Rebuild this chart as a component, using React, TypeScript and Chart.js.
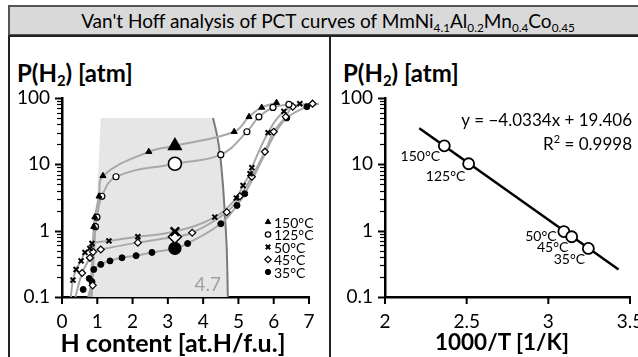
import React, { useEffect, useRef } from 'react';
import { Chart, registerables } from 'chart.js';
import { drawPoint } from 'chart.js/helpers';

Chart.register(...registerables);

const FONT = 'Lato, "Open Sans", sans-serif';

// ---------- data ----------
const seriesLabels = ['150°C', '125°C', '50°C', '45°C', '35°C'];

// PCT markers (H content, pressure atm)
const h150 = [0.9, 0.93, 1.05, 1.16, 2.46, 4.88, 5.3, 5.66, 6.08];
const p150 = [1.15, 1.6, 3.3, 6.7, 15.5, 31, 52, 72, 85];
const h125 = [0.95, 0.99, 1.13, 1.53, 4.5, 5.24, 5.58, 5.98, 6.43];
const p125 = [1.15, 1.6, 3.3, 6.5, 14, 31, 52, 72, 80];
const h50 = [0.31, 0.4, 0.54, 0.65, 0.79, 0.85, 1.33, 2.15, 4.33, 4.94, 5.13, 5.33, 5.38, 5.84, 6.29, 6.74];
const p50 = [0.18, 0.26, 0.35, 0.47, 0.54, 0.64, 0.7, 0.81, 1.6, 3.1, 4.8, 7.2, 8.9, 30, 63, 82];
const h45 = [0.57, 0.79, 0.87, 0.88, 1.1, 2.15, 3.69, 4.67, 5.04, 5.38, 5.75, 6.0, 6.34, 6.54, 7.1];
const p45 = [0.23, 0.39, 0.15, 0.48, 0.52, 0.66, 0.93, 1.9, 3.3, 6.5, 15.5, 31, 52, 74, 82];
const h35 = [0.6, 0.77, 0.85, 0.9, 1.1, 1.36, 1.7, 2.1, 2.55, 3.56, 4.5, 4.96, 5.18, 6.37, 6.94, 7.28];
const p35 = [0.13, 0.19, 0.17, 0.26, 0.31, 0.35, 0.39, 0.42, 0.47, 0.64, 1.27, 2.4, 3.6, 50, 74, 82];

// plateau pressures (large markers)
const plateauH = 3.2;
const plateauP = [19, 10.2, 0.97, 0.81, 0.54];

// grey curve traces
const c150H = [0.8, 0.9, 0.93, 1.05, 1.16, 2.46, 3.2, 4.88, 5.3, 5.66, 6.08];
const c150P = [0.1, 1.15, 1.6, 3.3, 6.7, 15.5, 19, 31, 52, 72, 85];
const c125H = [0.84, 0.95, 0.99, 1.13, 1.53, 3.2, 4.5, 5.24, 5.58, 5.98, 6.43];
const c125P = [0.1, 1.15, 1.6, 3.3, 6.5, 10.2, 14, 31, 52, 72, 80];
const c50H = [0.25, 0.31, 0.4, 0.54, 0.65, 0.79, 0.85, 1.33, 2.15, 3.2, 4.33, 4.94, 5.13, 5.33, 5.38, 5.84, 6.29, 6.74];
const c50P = [0.1, 0.18, 0.26, 0.35, 0.47, 0.54, 0.64, 0.7, 0.81, 0.97, 1.6, 3.1, 4.8, 7.2, 8.9, 30, 63, 82];
const c45H = [0.38, 0.57, 0.79, 0.88, 1.1, 2.15, 3.2, 3.69, 4.67, 5.04, 5.38, 5.75, 6.0, 6.34, 6.54, 7.1];
const c45P = [0.1, 0.23, 0.39, 0.48, 0.52, 0.66, 0.81, 0.93, 1.9, 3.3, 6.5, 15.5, 31, 52, 74, 82];
const c35H = [0.74, 0.85, 0.9, 1.1, 1.36, 1.7, 2.1, 2.55, 3.2, 3.56, 4.5, 4.96, 5.18, 5.68, 6.02, 6.37, 6.94, 7.28];
const c35P = [0.1, 0.17, 0.26, 0.31, 0.35, 0.39, 0.42, 0.47, 0.54, 0.64, 1.27, 2.4, 3.6, 12, 28, 50, 74, 82];

// shaded plateau region and its right boundary
const shadeLeftH = [0.85, 1.1];
const shadeLeftP = [0.1, 50];
const boundH = [4.28, 4.39, 4.48, 4.56, 4.62, 4.67, 4.7];
const boundP = [50, 28, 14, 4.94, 1.63, 0.52, 0.1];

// Van't Hoff
const vhX = [2.363, 2.512, 3.095, 3.143, 3.245];
const vhP = [19, 10.2, 0.97, 0.81, 0.54];
const fitX = [2.21, 3.43];
const fitP = [35, 0.26];
const fitEquation = 'y = −4.0334x + 19.406';
const fitR2 = '0.9998';

// axes
const logTicks = [0.1, 0.2, 0.3, 0.4, 0.5, 0.6, 0.7, 0.8, 0.9, 1, 2, 3, 4, 5, 6, 7, 8, 9, 10, 20, 30, 40, 50, 60, 70, 80, 90, 100];
const logLabels = [0.1, 1, 10, 100];
const leftXTitle = 'H content [at.H/f.u.]';
const rightXTitle = '1000/T [1/K]';

// ---------- styles ----------
const markerStyles = [
  { style: 'triangle', fill: '#000', r: 3.5, big: 7.5, bw: 1 },
  { style: 'circle', fill: '#fff', r: 3, big: 6.5, bw: 1.2 },
  { style: 'crossRot', fill: '#000', r: 3.5, big: 6, bw: 2 },
  { style: 'rectRot', fill: '#fff', r: 3.5, big: 6.5, bw: 1.2 },
  { style: 'circle', fill: '#000', r: 3, big: 6, bw: 1 },
];
const vhLabelOffsets = [[-24, 11], [-23, 13], [-23, 5], [-19, 11], [-19, 11]];

const zip = (xs: number[], ys: number[]) => xs.map((x, i) => ({ x, y: ys[i] }));

const yAxis = (w: number) => ({
  type: 'logarithmic',
  min: 0.1,
  max: 100,
  afterBuildTicks: (s: any) => {
    s.ticks = logTicks.map((v) => ({ value: v, major: logLabels.includes(v) }));
  },
  afterFit: (s: any) => {
    s.width = w;
  },
  ticks: {
    autoSkip: false,
    padding: 7,
    color: '#000',
    font: { family: FONT, size: 19 },
    callback: (v: number) => (logLabels.includes(v) ? String(v) : ''),
  },
  grid: { drawOnChartArea: false, drawTicks: true, tickLength: 5, tickColor: 'rgba(0,0,0,0)' },
  border: { display: true, color: '#000', width: 2.5 },
});

const xAxis = (min: number, max: number, step: number) => ({
  type: 'linear',
  min,
  max,
  afterFit: (s: any) => {
    s.height = 60;
    s.paddingLeft = 0;
    s.paddingRight = 0;
  },
  ticks: {
    stepSize: step,
    padding: 7,
    color: '#000',
    font: { family: FONT, size: 19 },
    callback: (v: number) => String(v),
  },
  grid: { drawOnChartArea: false, drawTicks: true, tickLength: 6, tickColor: 'rgba(0,0,0,0)' },
  border: { display: true, color: '#000', width: 2.5 },
});

// tick marks (major longer on the log axis)
const tickMarks = {
  id: 'tickMarks',
  afterDraw(chart: any) {
    const { ctx, chartArea: a, scales } = chart;
    ctx.save();
    ctx.strokeStyle = '#000';
    logTicks.forEach((v) => {
      const y = Math.round(scales.y.getPixelForValue(v)) + 0.5;
      const major = logLabels.includes(v);
      ctx.lineWidth = major ? 2 : 1.2;
      ctx.beginPath();
      ctx.moveTo(a.left, y);
      ctx.lineTo(a.left - (major ? 7 : 5), y);
      ctx.stroke();
    });
    ctx.lineWidth = 2;
    scales.x.ticks.forEach((t: any) => {
      const x = scales.x.getPixelForValue(t.value);
      ctx.beginPath();
      ctx.moveTo(x, a.bottom);
      ctx.lineTo(x, a.bottom + 7);
      ctx.stroke();
    });
    ctx.restore();
  },
};

const pctLegend = {
  id: 'pctLegend',
  afterDatasetsDraw(chart: any) {
    const { ctx, chartArea: a, scales } = chart;
    ctx.save();
    ctx.font = `14px ${FONT}`;
    ctx.textBaseline = 'middle';
    ctx.textAlign = 'left';
    seriesLabels.forEach((lab, i) => {
      const st = markerStyles[i];
      const x = a.right - 41;
      const y = a.bottom - 75 + i * 12.5;
      ctx.fillStyle = st.fill;
      ctx.strokeStyle = '#000';
      ctx.lineWidth = st.bw;
      drawPoint(ctx, { pointStyle: st.style, radius: st.r * 0.9, rotation: 0, borderWidth: st.bw } as any, x, y);
      ctx.fillStyle = '#000';
      ctx.fillText(lab, x + 6, y + 1);
    });
    const bx = scales.x.getPixelForValue(boundH[boundH.length - 1]);
    ctx.font = `19px ${FONT}`;
    ctx.fillStyle = '#a0a0a0';
    ctx.textAlign = 'center';
    ctx.fillText(String(boundH[boundH.length - 1]), bx - 20, a.bottom - 12);
    ctx.restore();
  },
};

const vhLabels = {
  id: 'vhLabels',
  afterDatasetsDraw(chart: any) {
    const { ctx, chartArea: a, scales } = chart;
    ctx.save();
    ctx.fillStyle = '#000';
    ctx.textBaseline = 'middle';
    ctx.textAlign = 'center';
    ctx.font = `14px ${FONT}`;
    vhX.forEach((x, i) => {
      const px = scales.x.getPixelForValue(x);
      const py = scales.y.getPixelForValue(vhP[i]);
      ctx.fillText(seriesLabels[i], px + vhLabelOffsets[i][0], py + vhLabelOffsets[i][1]);
    });
    ctx.font = `17px ${FONT}`;
    ctx.textAlign = 'right';
    const rx = a.right + 2;
    ctx.fillText(fitEquation, rx, a.top + 23);
    const rest = ' = ' + fitR2;
    const wRest = ctx.measureText(rest).width;
    ctx.fillText(rest, rx, a.top + 47);
    ctx.font = `11px ${FONT}`;
    const w2 = ctx.measureText('2').width;
    ctx.fillText('2', rx - wRest, a.top + 41);
    ctx.font = `17px ${FONT}`;
    ctx.fillText('R', rx - wRest - w2, a.top + 47);
    ctx.restore();
  },
};

function LeftChart() {
  const ref = useRef<HTMLCanvasElement>(null);
  useEffect(() => {
    const markerH = [h150, h125, h50, h45, h35];
    const markerP = [p150, p125, p50, p45, p35];
    const curveH = [c150H, c125H, c50H, c45H, c35H];
    const curveP = [c150P, c125P, c50P, c45P, c35P];
    const clip = { left: 0, top: 10, right: 20, bottom: 0 };
    const datasets: any[] = [];
    datasets.push({
      data: zip([...shadeLeftH, ...boundH], [...shadeLeftP, ...boundP]),
      showLine: true,
      fill: 'start',
      backgroundColor: '#e6e6e6',
      borderWidth: 0,
      borderColor: 'rgba(0,0,0,0)',
      pointRadius: 0,
      tension: 0,
      order: 20,
    });
    datasets.push({
      data: zip(boundH, boundP),
      showLine: true,
      borderColor: '#7a7a7a',
      borderWidth: 2,
      pointRadius: 0,
      tension: 0.3,
      order: 15,
    });
    curveH.forEach((hs, i) => {
      datasets.push({
        data: zip(hs, curveP[i]),
        showLine: true,
        borderColor: '#a8a8a8',
        borderWidth: 2,
        pointRadius: 0,
        tension: 0.4,
        clip,
        order: 10,
      });
    });
    markerH.forEach((hs, i) => {
      const st = markerStyles[i];
      const common = {
        showLine: false,
        pointStyle: st.style,
        backgroundColor: st.fill,
        borderColor: '#000',
        pointBackgroundColor: st.fill,
        pointBorderColor: '#000',
        pointBorderWidth: st.bw,
        clip,
        order: 1,
      };
      datasets.push({ ...common, data: zip(hs, markerP[i]), pointRadius: st.r });
      datasets.push({ ...common, data: [{ x: plateauH, y: plateauP[i] }], pointRadius: st.big, pointBorderWidth: st.bw * 1.3 });
    });
    const chart = new Chart(ref.current!, {
      type: 'scatter',
      data: { datasets },
      options: {
        animation: false,
        responsive: false,
        maintainAspectRatio: false,
        layout: { padding: { top: 60, right: 19, left: 0, bottom: 0 } },
        plugins: { legend: { display: false }, tooltip: { enabled: false } },
        scales: {
          x: xAxis(0, 7, 1),
          y: yAxis(50),
        } as any,
      },
      plugins: [pctLegend, tickMarks],
    } as any);
    return () => chart.destroy();
  }, []);
  return <canvas ref={ref} width={316} height={319} style={{ position: 'absolute', left: 12, top: 38, width: 316, height: 319 }} />;
}

function RightChart() {
  const ref = useRef<HTMLCanvasElement>(null);
  useEffect(() => {
    const chart = new Chart(ref.current!, {
      type: 'scatter',
      data: {
        datasets: [
          {
            data: zip(vhX, vhP),
            showLine: false,
            pointStyle: 'circle',
            pointRadius: 5.5,
            pointBackgroundColor: '#fff',
            pointBorderColor: '#000',
            pointBorderWidth: 1.8,
            order: 1,
          },
          {
            data: zip(fitX, fitP),
            showLine: true,
            borderColor: '#000',
            borderWidth: 2.5,
            pointRadius: 0,
            order: 5,
          },
        ],
      },
      options: {
        animation: false,
        responsive: false,
        maintainAspectRatio: false,
        layout: { padding: { top: 60, right: 8, left: 0, bottom: 0 } },
        plugins: { legend: { display: false }, tooltip: { enabled: false } },
        scales: {
          x: xAxis(2, 3.5, 0.5),
          y: yAxis(53),
        } as any,
      },
      plugins: [vhLabels, tickMarks],
    } as any);
    return () => chart.destroy();
  }, []);
  return <canvas ref={ref} width={306} height={319} style={{ position: 'absolute', left: 332, top: 38, width: 306, height: 319 }} />;
}

const subStyle: React.CSSProperties = { fontSize: '0.62em', verticalAlign: '-0.3em', lineHeight: 0 };

function YTitle({ left }: { left: number }) {
  return (
    <div style={{ position: 'absolute', left, top: 57, fontSize: 24, fontWeight: 'bold', lineHeight: '32px', whiteSpace: 'nowrap' }}>
      P(H<span style={subStyle}>2</span>) [atm]
    </div>
  );
}

function XTitle({ center, text, size }: { center: number; text: string; size: number }) {
  return (
    <div style={{ position: 'absolute', left: center - 150, width: 300, top: 327, textAlign: 'center', fontSize: size, fontWeight: 'bold', lineHeight: '30px', whiteSpace: 'nowrap' }}>
      {text}
    </div>
  );
}

export default function App() {
  return (
    <div style={{ position: 'fixed', left: 0, top: 0, width: 638, height: 357, overflow: 'hidden', background: '#fff', fontFamily: FONT, color: '#000' }}>
      <div style={{ position: 'absolute', left: 8, top: 5, width: 660, height: 31, background: '#d9d9d9', border: '2px solid #555', boxSizing: 'border-box' }} />
      <div style={{ position: 'absolute', left: 8, top: 5, width: 640, height: 31, lineHeight: '31px', textAlign: 'center', fontSize: 19, whiteSpace: 'nowrap' }}>
        Van't Hoff analysis of PCT curves of MmNi<span style={subStyle}>4.1</span>Al<span style={subStyle}>0.2</span>Mn<span style={subStyle}>0.4</span>Co<span style={subStyle}>0.45</span>
      </div>
      <div style={{ position: 'absolute', left: 8, top: 35, width: 660, height: 340, border: '2px solid #222', boxSizing: 'border-box' }} />
      <div style={{ position: 'absolute', left: 329, top: 35, width: 2, height: 330, background: '#222' }} />
      <YTitle left={17} />
      <YTitle left={343} />
      <LeftChart />
      <RightChart />
      <XTitle center={173} text={leftXTitle} size={25} />
      <XTitle center={502} text={rightXTitle} size={22.5} />
    </div>
  );
}
